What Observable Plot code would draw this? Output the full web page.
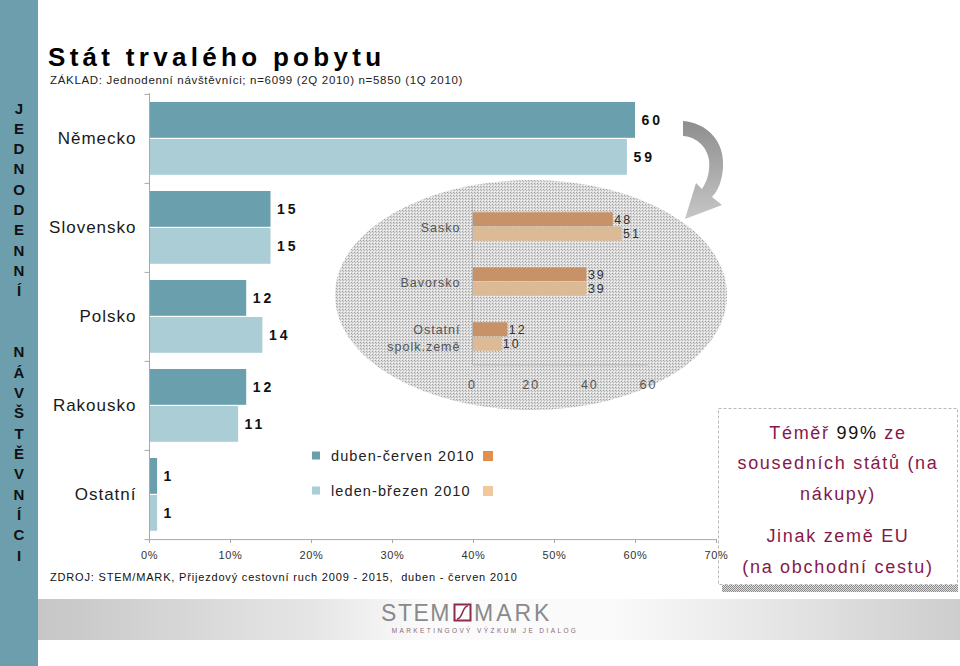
<!DOCTYPE html>
<html><head><meta charset="utf-8">
<script src="https://cdn.jsdelivr.net/npm/d3@7"></script>
<script src="https://cdn.jsdelivr.net/npm/@observablehq/plot@0.6"></script>
<style>
body{margin:0;background:#fff;}
#root{position:relative;width:960px;height:666px;overflow:hidden;font-family:"Liberation Sans",Arial,sans-serif;background:#fff;}
#root svg{position:absolute;}
</style></head><body><div id="root"></div>
<script>
// ---- data ----
const categories = ["Německo", "Slovensko", "Polsko", "Rakousko", "Ostatní"];
const seriesNames = ["duben-červen 2010", "leden-březen 2010"];
const valuesQ2 = [60, 15, 12, 12, 1];   // duben-červen 2010
const valuesQ1 = [59, 15, 14, 11, 1];   // leden-březen 2010
const xTicks = [0, 10, 20, 30, 40, 50, 60, 70];

const insetCategories = ["Sasko", "Bavorsko", "Ostatní\nspolk.země"];
const insetQ2 = [48, 39, 12];
const insetQ1 = [51, 39, 10];
const insetTicks = [0, 20, 40, 60];

const titleText = "Stát trvalého pobytu";
const subtitleText = "ZÁKLAD: Jednodenní návštěvníci; n=6099 (2Q 2010) n=5850 (1Q 2010)";
const sourceText = "ZDROJ: STEM/MARK, Přijezdový cestovní ruch 2009 - 2015,  duben - červen 2010";
const stripWords = ["JEDNODENNÍ", "NÁVŠTĚVNÍCI"];

// ---- styles ----
const FONT = '"Liberation Sans", Arial, sans-serif';
const teal = "#6a9fad", tealLight = "#aacdd6";
const brown = "#c89268", brownLight = "#dcba96";
const maroon = "#86194a";

const root = d3.select("#root");
const W = 960, H = 666;

// ---- background decoration ----
const deco = root.append("svg").attr("width", W).attr("height", H).style("left", 0).style("top", 0);
const defs = deco.append("defs");
const hatch = defs.append("pattern").attr("id", "hatch").attr("width", 3).attr("height", 3).attr("patternUnits", "userSpaceOnUse");
hatch.append("rect").attr("width", 3).attr("height", 3).attr("fill", "#dcdcdc");
hatch.append("rect").attr("x", 0).attr("y", 0).attr("width", 1).attr("height", 1).attr("fill", "#a0a0a0");
hatch.append("rect").attr("x", 1).attr("y", 1).attr("width", 1).attr("height", 1).attr("fill", "#b8b8b8");
hatch.append("rect").attr("x", 2).attr("y", 2).attr("width", 1).attr("height", 1).attr("fill", "#f6f6f6");
const hatch2 = defs.append("pattern").attr("id", "hatch2").attr("width", 2).attr("height", 2).attr("patternUnits", "userSpaceOnUse");
hatch2.append("rect").attr("width", 2).attr("height", 2).attr("fill", "#e0e0e0");
hatch2.append("rect").attr("width", 1).attr("height", 1).attr("fill", "#8a8a8a");
hatch2.append("rect").attr("x", 1).attr("y", 1).attr("width", 1).attr("height", 1).attr("fill", "#8a8a8a");
const bandGrad = defs.append("linearGradient").attr("id", "bandGrad");
[[0, "#c6c6c6"], [0.3, "#e6e6e6"], [0.42, "#fbfbfb"], [0.62, "#fafafa"], [0.78, "#e8e8e8"], [1, "#cdcdcd"]]
  .forEach(([o, c]) => bandGrad.append("stop").attr("offset", o).attr("stop-color", c));
const arrowGrad = defs.append("linearGradient").attr("id", "arrowGrad").attr("x1", 0).attr("y1", 0).attr("x2", 0).attr("y2", 1);
arrowGrad.append("stop").attr("offset", 0).attr("stop-color", "#8e8e8e");
arrowGrad.append("stop").attr("offset", 1).attr("stop-color", "#c6c6c6");

deco.append("rect").attr("x", 0).attr("y", 0).attr("width", 38).attr("height", H).attr("fill", "#6c9ead");
deco.append("rect").attr("x", 38).attr("y", 599).attr("width", W - 38).attr("height", 41).attr("fill", "url(#bandGrad)");
deco.append("ellipse").attr("cx", 531).attr("cy", 295).attr("rx", 196).attr("ry", 115).attr("fill", "url(#hatch)");
deco.append("path")
  .attr("d", "M683 121 C707 123 725 141 723 168 C722 181 718 191 712 197 L722 205 L685 219 L696 183 L702 189 C708 180 710 170 709 160 C707 147 697 137 683 136 Z")
  .attr("fill", "url(#arrowGrad)");
deco.append("rect").attr("x", 722).attr("y", 585).attr("width", 236).attr("height", 7).attr("fill", "url(#hatch2)");
deco.append("rect").attr("x", 718.5).attr("y", 408.5).attr("width", 239).attr("height", 176).attr("fill", "#fff")
  .attr("stroke", "#b8b8b8").attr("stroke-dasharray", "3,2");

// ---- main chart ----
const rows = categories.flatMap((c, i) => [
  {category: c, series: seriesNames[0], value: valuesQ2[i]},
  {category: c, series: seriesNames[1], value: valuesQ1[i]}
]);
const darkRows = rows.filter(d => d.series === seriesNames[0]);
const lightRows = rows.filter(d => d.series === seriesNames[1]);
const mTop = 93, mBottom = 127;
const BW = (H - mTop - mBottom) / categories.length;

const main = Plot.plot({
  width: W, height: H,
  marginLeft: 149, marginRight: 244, marginTop: mTop, marginBottom: mBottom,
  style: {background: "transparent", fontFamily: FONT, overflow: "visible"},
  x: {domain: [0, 70], label: null},
  y: {domain: categories, padding: 0, label: null},
  marks: [
    Plot.barX(darkRows, {x: "value", y: "category", fill: teal, insetTop: 8, insetBottom: BW - 44}),
    Plot.barX(lightRows, {x: "value", y: "category", fill: tealLight, insetTop: 45, insetBottom: BW - 81}),
    Plot.ruleX([0], {stroke: "#a8a8a8"}),
    Plot.ruleY([categories[categories.length - 1]], {y: d => d, x1: 0, x2: 70, dy: BW / 2, stroke: "#a8a8a8"}),
    Plot.ruleY(categories, {y: d => d, x1: -0.55, x2: 0, dy: -BW / 2, stroke: "#a8a8a8"}),
    Plot.ruleY([categories[categories.length - 1]], {y: d => d, x1: -0.55, x2: 0, dy: BW / 2, stroke: "#a8a8a8"}),
    Plot.text(darkRows, {x: "value", y: "category", text: d => String(d.value), dx: 6, dy: 26 - BW / 2,
      textAnchor: "start", fontSize: 14, fontWeight: "bold", fill: "#111"}),
    Plot.text(lightRows, {x: "value", y: "category", text: d => String(d.value), dx: 6, dy: 63 - BW / 2,
      textAnchor: "start", fontSize: 14, fontWeight: "bold", fill: "#111"}),
    Plot.axisY({tickSize: 0, tickPadding: 13, fontSize: 17, fill: "#1a1a1a", label: null}),
    Plot.axisX({ticks: xTicks, tickFormat: d => d + "%", tickSize: 4, tickPadding: 8, fontSize: 11,
      fill: "#333", stroke: "#a8a8a8", label: null})
  ]
});
d3.select(main).style("left", "0px").style("top", "0px");
d3.select(main).selectAll('g[aria-label="y-axis tick label"] text').attr("letter-spacing", 1);
d3.select(main).selectAll('g[aria-label="text"] text').attr("letter-spacing", 3);
d3.select(main).selectAll('g[aria-label="x-axis tick label"] text').attr("letter-spacing", 0.6);
root.node().appendChild(main);

// ---- inset chart ----
const insetRows = insetCategories.flatMap((c, i) => [
  {category: c, series: seriesNames[0], value: insetQ2[i]},
  {category: c, series: seriesNames[1], value: insetQ1[i]}
]);
const iDark = insetRows.filter(d => d.series === seriesNames[0]);
const iLight = insetRows.filter(d => d.series === seriesNames[1]);
const iTop = 7.75, iBottom = 35.75, iH = 210;
const IBW = (iH - iTop - iBottom) / insetCategories.length;
const inset = Plot.plot({
  width: 400, height: iH,
  marginLeft: 142, marginRight: 82, marginTop: iTop, marginBottom: iBottom,
  style: {background: "transparent", fontFamily: FONT, overflow: "visible"},
  x: {domain: [0, 60], label: null},
  y: {domain: insetCategories, padding: 0, label: null},
  marks: [
    Plot.barX(iDark, {x: "value", y: "category", fill: brown, insetTop: 13.25, insetBottom: IBW - 27.75}),
    Plot.barX(iLight, {x: "value", y: "category", fill: brownLight, insetTop: 27.75, insetBottom: IBW - 42.25}),
    Plot.ruleX([0], {stroke: "#b4b4b4"}),
    Plot.ruleY([insetCategories[insetCategories.length - 1]], {y: d => d, x1: 0, x2: 60, dy: IBW / 2, stroke: "#b4b4b4"}),
    Plot.text(iDark, {x: "value", y: "category", text: d => String(d.value), dx: 1, dy: -7.25,
      textAnchor: "start", fontSize: 12.5, fill: "#333"}),
    Plot.text(iLight, {x: "value", y: "category", text: d => String(d.value), dx: 1, dy: 7.25,
      textAnchor: "start", fontSize: 12.5, fill: "#333"}),
    Plot.axisY({tickSize: 0, tickPadding: 12, fontSize: 12.5, fill: "#555", lineHeight: 1.35, label: null}),
    Plot.axisX({ticks: insetTicks, tickSize: 0, tickPadding: 15, fontSize: 12.5, fill: "#555", label: null})
  ]
});
d3.select(inset).style("left", "330px").style("top", "190px");
d3.select(inset).selectAll('g[aria-label="y-axis tick label"] text').attr("letter-spacing", 1);
d3.select(inset).selectAll('g[aria-label="x-axis tick label"] text').attr("letter-spacing", 2);
d3.select(inset).selectAll('g[aria-label="text"] text').attr("letter-spacing", 2);
root.node().appendChild(inset);

// ---- overlay texts ----
const ov = root.append("svg").attr("width", W).attr("height", H).style("left", 0).style("top", 0)
  .style("font-family", FONT);
ov.append("text").attr("x", 48).attr("y", 65.5).attr("font-size", 26).attr("font-weight", "bold")
  .attr("letter-spacing", 4.3).attr("fill", "#000").text(titleText);
ov.append("text").attr("x", 50).attr("y", 84).attr("font-size", 11.5).attr("letter-spacing", 0.68)
  .attr("fill", "#222").text(subtitleText);
ov.append("text").attr("x", 50).attr("y", 581).attr("font-size", 11).attr("letter-spacing", 0.82)
  .style("white-space", "pre").attr("fill", "#111").text(sourceText);

// vertical strip letters
const stripChars = [...stripWords[0], "", "", ...stripWords[1]];
const stripStep = (555 - 108) / (stripChars.length - 1);
ov.append("g").selectAll("text").data(stripChars).join("text")
  .attr("x", 19).attr("y", (d, i) => 113.5 + i * stripStep).attr("text-anchor", "middle")
  .attr("font-size", 15).attr("font-weight", "bold").attr("fill", "#111").text(d => d);

// legend
const legendColors = [[teal, "#e0904c"], [tealLight, "#f0c89c"]];
const legendY = [456, 491];
seriesNames.forEach((s, i) => {
  ov.append("rect").attr("x", 312).attr("y", legendY[i] - 4.5).attr("width", 8).attr("height", 8).attr("fill", legendColors[i][0]);
  ov.append("rect").attr("x", 483).attr("y", legendY[i] - 5).attr("width", 10).attr("height", 10).attr("fill", legendColors[i][1]);
  ov.append("text").attr("x", 331).attr("y", legendY[i] + 5).attr("font-size", 14.5).attr("letter-spacing", 1.1)
    .attr("fill", "#222").text(s);
});

// note box text
const boxLines = [
  [["Téměř ", maroon], ["99%", "#111"], [" ze", maroon]],
  [["sousedních států (na", maroon]],
  [["nákupy)", maroon]],
  [["Jinak země EU", maroon]],
  [["(na obchodní cestu)", maroon]]
];
const boxY = [439, 469, 500, 542, 573];
boxLines.forEach((parts, i) => {
  const t = ov.append("text").attr("x", 838).attr("y", boxY[i]).attr("text-anchor", "middle")
    .attr("font-size", 18).attr("letter-spacing", 1.7).style("white-space", "pre");
  parts.forEach(([txt, col]) => t.append("tspan").attr("fill", col).text(txt));
});

// logo
ov.append("text").attr("x", 451).attr("y", 621).attr("text-anchor", "end").attr("font-size", 23)
  .attr("letter-spacing", 1.5).attr("fill", "#8a8a8a").attr("font-weight", 300).text("STEM");
ov.append("rect").attr("x", 454.5).attr("y", 604.5).attr("width", 16).attr("height", 16)
  .attr("fill", "#fff").attr("stroke", "#8e2b4b").attr("stroke-width", 2);
ov.append("path").attr("d", "M457 619 C463 619 462 606 468 606").attr("fill", "none").attr("stroke", "#8e2b4b").attr("stroke-width", 1.6);
ov.append("text").attr("x", 474).attr("y", 621).attr("font-size", 23).attr("letter-spacing", 3)
  .attr("fill", "#8a8a8a").text("MARK");
ov.append("text").attr("x", 485).attr("y", 633).attr("text-anchor", "middle").attr("font-size", 6.5)
  .attr("letter-spacing", 2.4).attr("fill", "#8a6a76").text("MARKETINGOVÝ VÝZKUM JE DIALOG");
</script></body></html>
